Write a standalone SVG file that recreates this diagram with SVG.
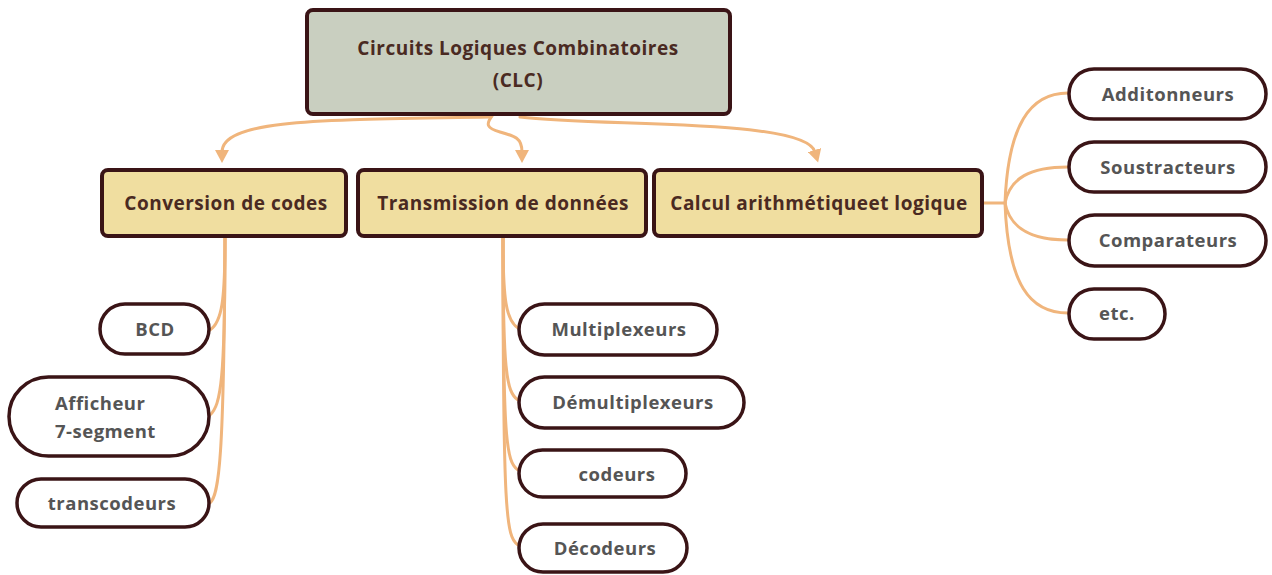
<svg xmlns="http://www.w3.org/2000/svg" width="1272" height="575" viewBox="0 0 1272 575">
<defs>
<style>
.root{fill:#c9cfc0;stroke:#3a1416;stroke-width:4}
.l1{fill:#f0dea0;stroke:#3a1416;stroke-width:4}
.pill{fill:#ffffff;stroke:#3a1416;stroke-width:3.5}
.conn{fill:none;stroke:#f0b57c;stroke-width:3;stroke-linecap:round}
.t1{font-family:"Open Sans","Liberation Sans",sans-serif;font-weight:700;fill:#4a2a22;text-anchor:middle;font-size:19px;letter-spacing:0.5px}
.tp{font-family:"Open Sans","Liberation Sans",sans-serif;font-weight:700;fill:#555555;font-size:18.5px;letter-spacing:0.5px}
</style>
<marker id="arr" markerWidth="14" markerHeight="14" refX="2" refY="7" orient="auto" markerUnits="userSpaceOnUse">
<path d="M0,0 L13,7 L0,14 Z" fill="#f0b57c"/>
</marker>
</defs>
<rect width="1272" height="575" fill="#ffffff"/>
<g id="connectors">
<path class="conn" d="M490,117 C330,120 222,118 222,152" marker-end="url(#arr)"/>
<path class="conn" d="M492,116 C486,124 486,128 500,132 C515,136 522,138 522,152" marker-end="url(#arr)"/>
<path class="conn" d="M520,117 C600,127 805,118 815,152" marker-end="url(#arr)"/>
<path class="conn" d="M225,238 C225,300 222,322 210,330"/>
<path class="conn" d="M225,238 C225,380 221,405 210,415"/>
<path class="conn" d="M225,238 C224,460 219,495 210,503"/>
<path class="conn" d="M503,238 C503,300 506,320 518,328"/>
<path class="conn" d="M503,238 C503,370 506,392 518,400"/>
<path class="conn" d="M503,238 C503,440 506,462 518,470"/>
<path class="conn" d="M503,238 C503,515 506,537 518,545"/>
<path class="conn" d="M983,203 L1005,203"/>
<path class="conn" d="M1005,203 C1008,125 1030,93 1068,93"/>
<path class="conn" d="M1005,203 C1010,178 1030,167 1068,167"/>
<path class="conn" d="M1005,203 C1010,228 1030,240 1068,240"/>
<path class="conn" d="M1005,203 C1008,285 1030,313 1068,313"/>
</g>
<g id="root">
<rect class="root" x="307" y="10" width="423" height="104" rx="6"/>
<text class="t1" x="518" y="55">Circuits Logiques Combinatoires</text>
<text class="t1" x="518" y="87">(CLC)</text>
</g>
<g id="conversion">
<rect class="l1" x="102" y="170" width="244" height="66" rx="6"/>
<text class="t1" x="226" y="210">Conversion de codes</text>
</g>
<g id="transmission">
<rect class="l1" x="358" y="170" width="288" height="66" rx="6"/>
<text class="t1" x="503" y="210">Transmission de données</text>
</g>
<g id="calcul">
<rect class="l1" x="654" y="170" width="328" height="66" rx="6"/>
<text class="t1" x="819" y="210">Calcul arithmétiqueet logique</text>
</g>
<g id="bcd">
<rect class="pill" x="100" y="304" width="109" height="50" rx="25"/>
<text class="tp" x="155" y="336" text-anchor="middle">BCD</text>
</g>
<g id="afficheur">
<rect class="pill" x="9" y="377" width="200" height="79" rx="39.5"/>
<text class="tp" x="55" y="410">Afficheur</text>
<text class="tp" x="55" y="438">7-segment</text>
</g>
<g id="transcodeurs">
<rect class="pill" x="17" y="479" width="192" height="48" rx="24"/>
<text class="tp" x="112" y="510" text-anchor="middle">transcodeurs</text>
</g>
<g id="multiplexeurs">
<rect class="pill" x="519" y="304" width="198" height="51" rx="25.5"/>
<text class="tp" x="619" y="336" text-anchor="middle">Multiplexeurs</text>
</g>
<g id="demultiplexeurs">
<rect class="pill" x="519" y="377" width="225" height="51" rx="25.5"/>
<text class="tp" x="633" y="409" text-anchor="middle">Démultiplexeurs</text>
</g>
<g id="codeurs">
<rect class="pill" x="519" y="450" width="167" height="47" rx="23.5"/>
<text class="tp" x="617" y="481" text-anchor="middle">codeurs</text>
</g>
<g id="decodeurs">
<rect class="pill" x="519" y="524" width="168" height="48" rx="24"/>
<text class="tp" x="605" y="555" text-anchor="middle">Décodeurs</text>
</g>
<g id="additonneurs">
<rect class="pill" x="1069" y="69" width="197" height="50" rx="25"/>
<text class="tp" x="1168" y="101" text-anchor="middle">Additonneurs</text>
</g>
<g id="soustracteurs">
<rect class="pill" x="1069" y="142" width="197" height="50" rx="25"/>
<text class="tp" x="1168" y="174" text-anchor="middle">Soustracteurs</text>
</g>
<g id="comparateurs">
<rect class="pill" x="1069" y="215" width="197" height="51" rx="25.5"/>
<text class="tp" x="1168" y="247" text-anchor="middle">Comparateurs</text>
</g>
<g id="etc">
<rect class="pill" x="1069" y="289" width="96" height="50" rx="25"/>
<text class="tp" x="1099" y="320">etc.</text>
</g>
</svg>
